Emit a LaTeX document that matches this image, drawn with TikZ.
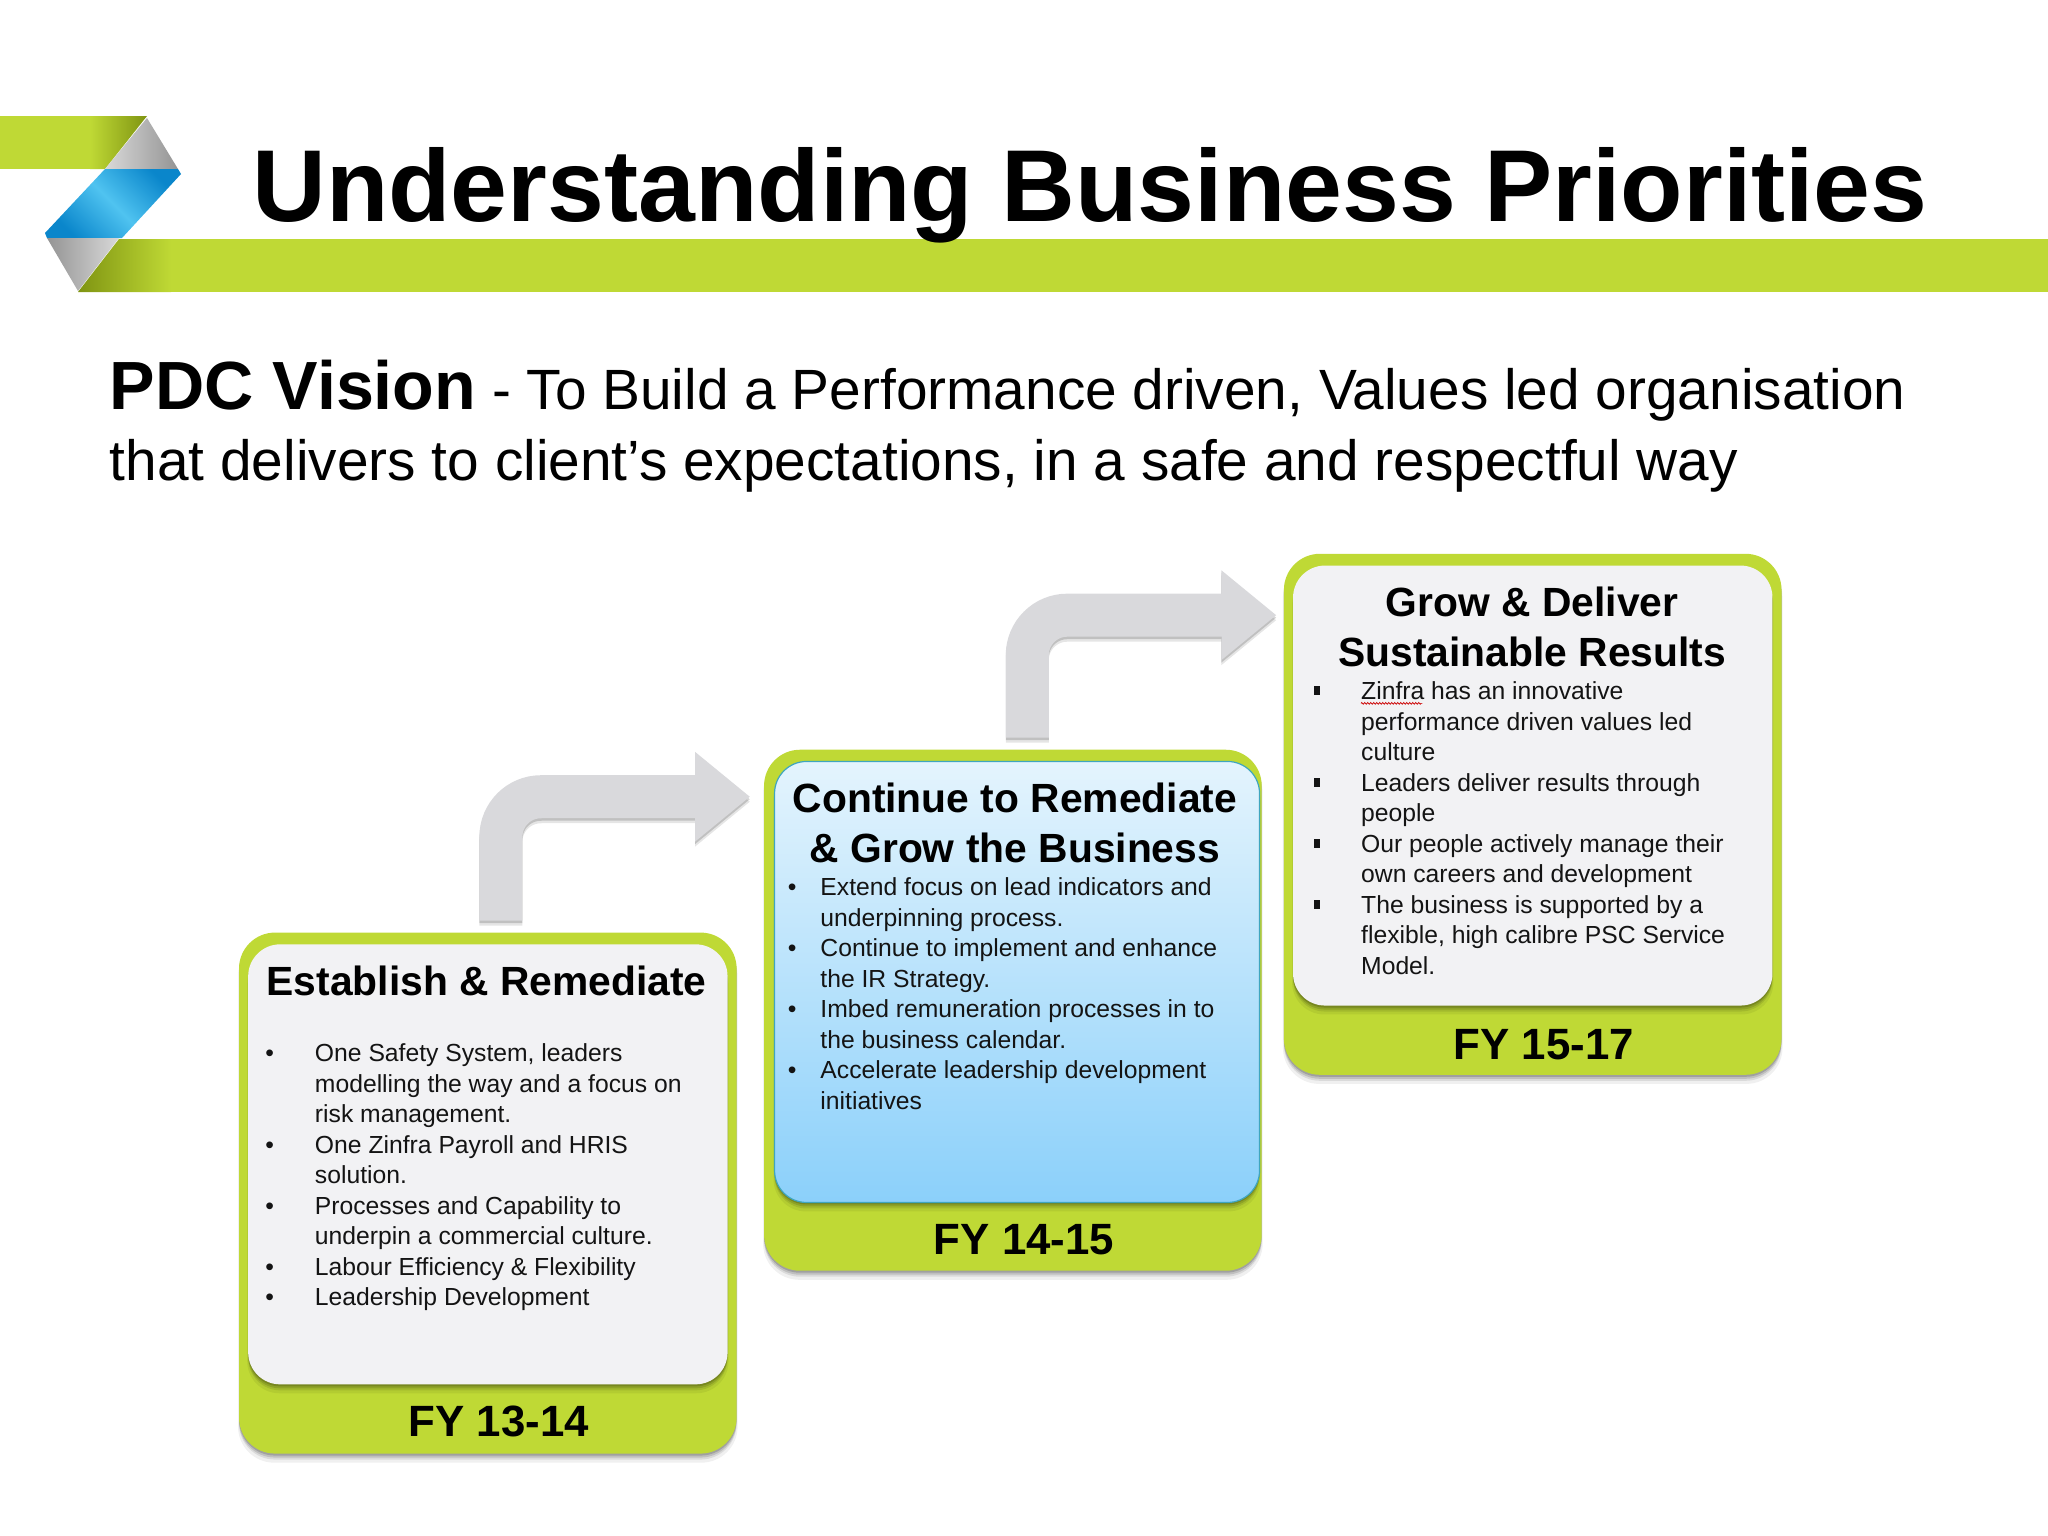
\documentclass[tikz,border=0pt]{standalone}
\usepackage{fontspec}
\setmainfont{Liberation Sans}
\usetikzlibrary{arrows.meta,calc,shadows,decorations.pathmorphing}
\definecolor{zgreen}{HTML}{BFD935}
\definecolor{zdark}{HTML}{7F9412}
\definecolor{zpanel}{HTML}{F2F2F4}
\definecolor{zarrow}{HTML}{D9D9DC}
\definecolor{zblueL}{HTML}{4FC3F0}
\definecolor{zblueD}{HTML}{0A86CB}
\definecolor{zskyT}{HTML}{E4F4FD}
\definecolor{zskyB}{HTML}{8BD0FA}
\definecolor{zskyE}{HTML}{3FA6BE}
\newcommand{\fs}[2]{\fontsize{#1}{#2}\selectfont}
\tikzset{
  softdrop/.style={
    general shadow={fill=black,opacity=.06,shadow yshift=-8pt,shadow scale=1.004},
    general shadow={fill=black,opacity=.09,shadow yshift=-6pt},
    general shadow={fill=black,opacity=.12,shadow yshift=-4pt},
    general shadow={fill=black,opacity=.16,shadow yshift=-2pt}},
  outerbox/.style={softdrop,fill=zgreen,rounded corners=36pt,minimum width=497.6pt,minimum height=521pt,
     anchor=north west,inner sep=0pt,outer sep=0pt},
  innerbox/.style={softdrop,fill=zpanel,rounded corners=32pt,minimum width=479.4pt,minimum height=440pt,
     anchor=north west,inner sep=0pt,outer sep=0pt},
  bluebox/.style={softdrop,top color=zskyT,bottom color=zskyB,draw=zskyE,line width=1.2pt,
     rounded corners=32pt,minimum width=485pt,minimum height=441pt,anchor=north west,inner sep=0pt,outer sep=0pt},
  heading/.style={font=\bfseries\fs{40.8}{49.6},align=center,inner sep=0pt,anchor=base,text=black},
  fylabel/.style={font=\bfseries\fs{43.8}{50},inner sep=0pt,anchor=center,text=black},
  listtext/.style={font=\fs{24.7}{30.5},align=left,inner sep=0pt,anchor=north west,text=black!92},
  blockline/.style={line width=43pt,rounded corners=40pt,shorten <=12pt,shorten >=14pt,
     -{Triangle[length=55pt,width=86pt]}},
}
\newcommand{\blockarrow}[2]{%
  \draw[blockline,draw=black,opacity=.10,transform canvas={yshift=-5pt}] (#1) |- (#2);
  \draw[blockline,draw=black,opacity=.16,transform canvas={yshift=-2.5pt}] (#1) |- (#2);
  \draw[blockline,draw=zarrow] (#1) |- (#2);}
\newcommand{\rb}{\llap{•\hspace{41pt}}}
\newcommand{\rc}{\llap{•\hspace{24pt}}}
\newcommand{\rs}{\llap{\rule[4.5pt]{6pt}{9pt}\hspace{41pt}}}
\begin{document}
\begin{tikzpicture}[x=1.30612pt,y=-1.30612pt]
\useasboundingbox (0,0) rectangle (1568,1176);
% logo and band
\begin{scope}[x=1pt,y=-1pt]
  \fill[zgreen] (0,116) rectangle (100,169);
  \path[left color=zgreen,right color=zdark] (90,116) -- (147,116) -- (105,169) -- (90,169) -- cycle;
  \path[left color=black!15,right color=black!42] (147,118) -- (178,169) -- (105,169) -- cycle;
  \path[left color=zblueD,right color=zblueD,middle color=zblueL,shading angle=135] (105,169) -- (178,169) -- (181,174) -- (122,238) -- (47,238) -- (45,233) -- cycle;
  \path[left color=black!42,right color=black!15] (47,238) -- (119,238) -- (78,291) -- cycle;
  \fill[zgreen] (170,239) rectangle (2048,292);
  \path[left color=zdark,right color=zgreen] (119,239) -- (171,239) -- (171,292) -- (78,292) -- cycle;
\end{scope}
\node[font=\bfseries\fs{102.2}{110},inner sep=0pt,anchor=base west] (title) at (193,169.5) {Understanding Business Priorities};
\node[font=\fs{56.8}{70},inner sep=0pt,anchor=base west] (vis1) at (84,313.5) {{\bfseries\fs{68.2}{70}PDC Vision} - To Build a Performance driven, Values led organisation};
\node[font=\fs{56.8}{70},inner sep=0pt,anchor=base west] (vis2) at (84,368) {that delivers to client’s expectations, in a safe and respectful way};
% boxes
\node[outerbox] (box1) at (183,714) {};
\node[outerbox] (box2) at (585,574) {};
\node[outerbox] (box3) at (983,424) {};
\node[innerbox] (in1) at (190,723) {};
\node[bluebox] (in2) at (593,583) {};
\node[innerbox] (in3) at (990,433) {};
% arrows
\coordinate (a1s) at ($(box1.north west)+(200.5,0)$);
\coordinate (a1e) at ($(box2.north west)+(0,36)$);
\coordinate (a2s) at ($(box2.north west)+(201.5,0)$);
\coordinate (a2e) at ($(box3.north west)+(5,47)$);
\blockarrow{a1s}{a1e}
\blockarrow{a2s}{a2e}
% headings
\node[heading] (h1) at (372.5,762) {Establish \& Remediate};
\node[heading] (h2) at (777,660) {Continue to Remediate\\\& Grow the Business};
\node[heading] (h3) at (1173,510) {Grow \& Deliver\\Sustainable Results};
% lists
\node[listtext] (l1) at (241,799) {\rb One Safety System, leaders\\modelling the way and a focus on\\risk management.\\\rb One Zinfra Payroll and HRIS\\solution.\\\rb Processes and Capability to\\underpin a commercial culture.\\\rb Labour Efficiency \& Flexibility\\\rb Leadership Development};
\node[listtext] (l2) at (628,672) {\rc Extend focus on lead indicators and\\underpinning process.\\\rc Continue to implement and enhance\\the IR Strategy.\\\rc Imbed remuneration processes in to\\the business calendar.\\\rc Accelerate leadership development\\initiatives};
\node[listtext] (l3) at (1042,522) {\rs Zinfra has an innovative\\performance driven values led\\culture\\\rs Leaders deliver results through\\people\\\rs Our people actively manage their\\own careers and development\\\rs The business is supported by a\\flexible, high calibre PSC Service\\Model.};
\coordinate (sq1) at (1042,538.5);
\coordinate (sq2) at (1089,538.5);
\draw[red!80!black,line width=.7pt,decorate,decoration={zigzag,segment length=3pt,amplitude=.9pt}] (sq1) -- (sq2);
% FY labels
\node[fylabel] (fy1) at (382,1088) {FY 13-14};
\node[fylabel] (fy2) at (784,949) {FY 14-15};
\node[fylabel] (fy3) at (1182,800) {FY 15-17};
\end{tikzpicture}
\end{document}
